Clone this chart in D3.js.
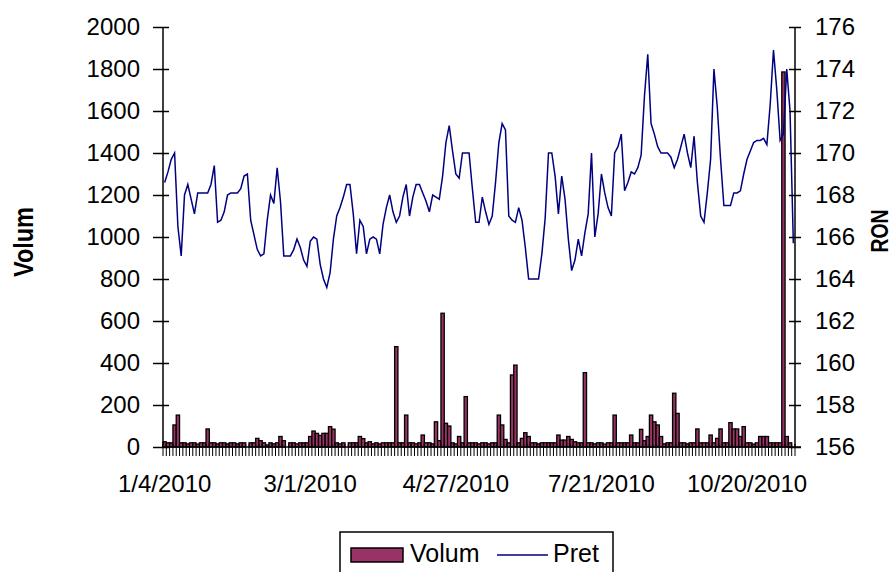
<!DOCTYPE html>
<html><head><meta charset="utf-8">
<script src="https://cdn.jsdelivr.net/npm/d3@7"></script>
<style>
body{margin:0;background:#fff}
svg{display:block}
text{font-family:"Liberation Sans",Arial,sans-serif;fill:#000}
</style>
</head><body>
<svg id="c" width="893" height="572"></svg>
<script>
// ---- data ----
const volum = [25,20,20,105,152,20,20,15,20,20,14,20,20,86,20,20,15,20,20,15,
20,20,15,20,20,0,20,20,41,30,20,10,20,15,20,50,30,0,20,20,
15,20,20,20,50,76,65,55,65,65,97,85,20,15,20,0,20,20,20,50,
40,20,25,15,20,15,20,20,20,20,478,20,20,152,20,20,15,20,57,20,
20,15,120,30,637,113,100,20,15,50,20,240,20,20,20,15,20,20,15,20,
20,152,105,36,20,343,390,20,41,68,50,20,20,15,20,20,20,20,20,57,
33,33,50,36,25,20,20,354,20,20,15,20,20,14,20,20,152,20,20,20,
20,57,20,20,84,30,50,152,120,105,50,15,20,20,256,160,20,20,15,20,
20,86,20,20,20,57,20,41,86,20,20,116,86,86,50,97,20,20,14,20,
50,50,50,20,20,20,20,1786,50,20,0];
const pret = [168.6,169.1,169.7,170.0,166.5,165.1,168.0,168.5,167.8,167.1,
168.1,168.1,168.1,168.1,168.5,169.4,166.7,166.8,167.2,168.0,
168.1,168.1,168.1,168.3,168.9,169.0,166.8,166.1,165.4,165.1,
165.2,166.8,168.0,167.6,169.3,167.7,165.1,165.1,165.1,165.4,
165.9,165.5,164.9,164.6,165.8,166.0,165.9,164.7,164.0,163.6,
164.3,165.9,167.0,167.4,167.9,168.5,168.5,167.1,165.2,166.8,
166.5,165.2,165.9,166.0,165.9,165.2,166.6,167.4,168.0,167.2,
166.7,167.0,167.9,168.5,167.0,167.9,168.5,168.5,168.1,167.7,
167.2,168.0,167.9,167.8,168.9,170.5,171.3,170.1,169.0,168.8,
170.0,170.0,170.0,168.3,166.7,166.7,167.9,167.2,166.6,167.0,
168.6,170.5,171.4,171.1,167.0,166.8,166.7,167.4,166.8,165.5,
164.0,164.0,164.0,164.0,165.2,166.9,170.0,170.0,168.9,167.1,
168.9,167.8,165.9,164.4,164.9,165.9,165.1,166.2,167.1,170.0,
166.0,167.1,169.0,168.1,167.4,167.0,170.0,170.3,170.9,168.2,
168.6,169.1,169.0,169.3,169.9,172.7,174.7,171.4,170.9,170.3,
170.0,170.0,170.0,169.8,169.3,169.7,170.3,170.9,170.0,169.3,
170.8,168.6,167.0,166.7,168.1,169.7,174.0,172.2,169.7,167.5,
167.5,167.5,168.1,168.1,168.2,169.0,169.7,170.1,170.5,170.6,
170.6,170.7,170.4,172.3,174.9,173.0,170.6,170.9,174.0,172.0,
165.7];
const dateLabels = ["1/4/2010","3/1/2010","4/27/2010","7/21/2010","10/20/2010"];
const labelEvery = 44;
const volTicks = [0,200,400,600,800,1000,1200,1400,1600,1800,2000];
const pretTicks = [156,158,160,162,164,166,168,170,172,174,176];
const seriesNames = ["Volum","Pret"];

// ---- drawing ----
const svg = d3.select("#c");
const L = 163, R = 795, T = 27, B = 447;
const N = volum.length;
const x = d3.scaleBand().domain(d3.range(N)).range([L, R]).padding(0);
const yV = d3.scaleLinear().domain([0, 2000]).range([B, T]);
const yP = d3.scaleLinear().domain([156, 176]).range([B, T]);
const bw = x.bandwidth();

// bars
svg.append("g").selectAll("rect").data(volum).join("rect")
  .attr("x", (d, i) => x(i))
  .attr("y", d => yV(d))
  .attr("width", bw)
  .attr("height", d => B - yV(d))
  .attr("fill", "#993366")
  .attr("stroke", "#000")
  .attr("stroke-width", 1.3)
  .attr("display", d => d > 0 ? null : "none");

// price line
const line = d3.line().x((d, i) => x(i) + bw / 2).y(d => yP(d));
svg.append("path").datum(pret).attr("d", line)
  .attr("fill", "none").attr("stroke", "#000080").attr("stroke-width", 1.5);

// left axis
const gl = svg.append("g").attr("transform", `translate(${L},0)`)
  .call(d3.axisLeft(yV).tickValues(volTicks).tickSize(10).tickPadding(13).tickFormat(d3.format("d")));
gl.select(".domain").remove();
gl.selectAll(".tick line").attr("x2", 6).attr("x1", -10).attr("stroke", "#000").attr("stroke-width", 1.5);
gl.append("line").attr("y1", T).attr("y2", B).attr("stroke", "#000").attr("stroke-width", 1.5);
gl.selectAll("text").attr("font-size", 24).attr("fill", "#000");

// right axis
const gr = svg.append("g").attr("transform", `translate(${R},0)`)
  .call(d3.axisRight(yP).tickValues(pretTicks).tickSize(6).tickPadding(14).tickFormat(d3.format("d")));
gr.select(".domain").remove();
gr.selectAll(".tick line").attr("x1", -6).attr("x2", 6).attr("stroke", "#000").attr("stroke-width", 1.5);
gr.append("line").attr("y1", T).attr("y2", B).attr("stroke", "#000").attr("stroke-width", 1.5);
gr.selectAll("text").attr("font-size", 24).attr("fill", "#000");

// bottom axis: category ticks
const gb = svg.append("g");
const bounds = d3.range(N + 1).map(i => i < N ? x(i) : R);
gb.selectAll("line.ct").data(bounds).join("line").attr("class", "ct")
  .attr("x1", d => d).attr("x2", d => d).attr("y1", B - 3).attr("y2", B + 9)
  .attr("stroke", "#000").attr("stroke-width", 1);
gb.append("line").attr("x1", L).attr("x2", R + 6).attr("y1", B).attr("y2", B)
  .attr("stroke", "#000").attr("stroke-width", 1.5);
gb.selectAll("text.cl").data(dateLabels).join("text").attr("class", "cl")
  .attr("x", (d, k) => x(k * labelEvery) + bw / 2)
  .attr("y", 492).attr("text-anchor", "middle").attr("font-size", 24)
  .text(d => d);

// axis titles
svg.append("text").attr("transform", "translate(33,242) rotate(-90)")
  .attr("text-anchor", "middle").attr("font-weight", "bold").attr("font-size", 28)
  .attr("textLength", 70).attr("lengthAdjust", "spacingAndGlyphs").text("Volum");
svg.append("text").attr("transform", "translate(888,231) rotate(-90)")
  .attr("text-anchor", "middle").attr("font-weight", "bold").attr("font-size", 24)
  .attr("textLength", 43).attr("lengthAdjust", "spacingAndGlyphs").text("RON");

// legend
const lg = svg.append("g");
lg.append("rect").attr("x", 340).attr("y", 532).attr("width", 273).attr("height", 60)
  .attr("fill", "#fff").attr("stroke", "#000").attr("stroke-width", 1.5);
lg.append("rect").attr("x", 351).attr("y", 548).attr("width", 52).attr("height", 14)
  .attr("fill", "#993366").attr("stroke", "#000").attr("stroke-width", 1.5);
lg.append("text").attr("x", 410).attr("y", 562).attr("font-size", 25).text(seriesNames[0]);
lg.append("line").attr("x1", 497).attr("x2", 548).attr("y1", 555).attr("y2", 555)
  .attr("stroke", "#000080").attr("stroke-width", 1.5);
lg.append("text").attr("x", 553).attr("y", 562).attr("font-size", 25).text(seriesNames[1]);
</script>
</body></html>
